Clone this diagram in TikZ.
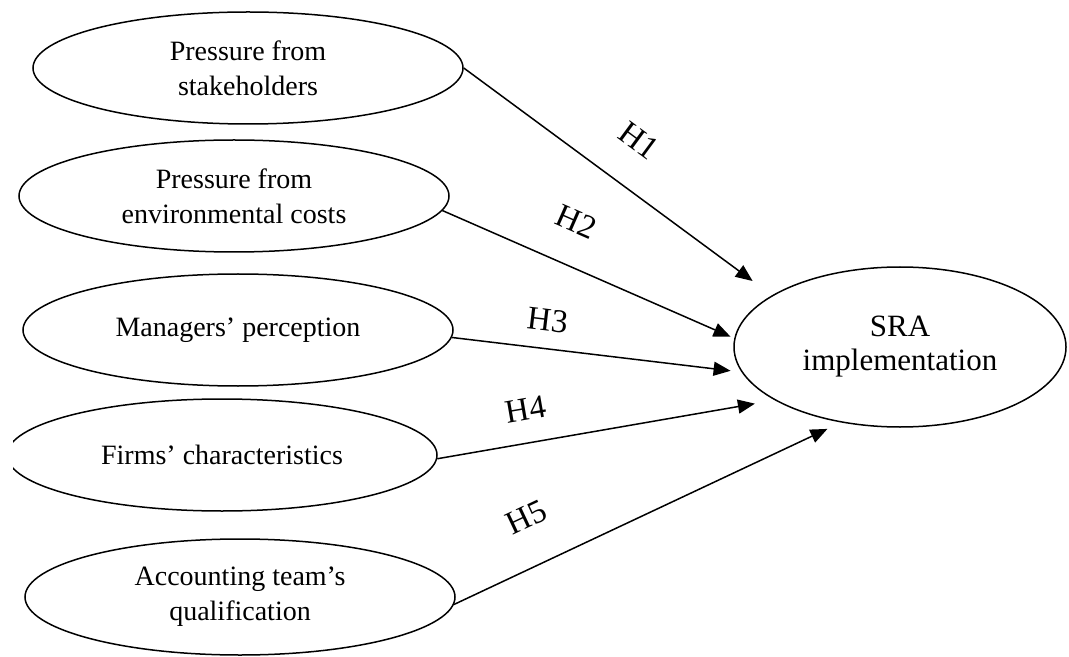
\documentclass[tikz,border=0pt]{standalone}
\usepackage{fontspec}
\setmainfont{Liberation Serif}
\usepackage{tikz}
\usetikzlibrary{positioning, shapes.geometric, arrows.meta}

\begin{document}
\begin{tikzpicture}[x=0.5pt,y=-0.5pt]
			\tikzstyle{factor}=[ellipse,draw=black,line width=0.75pt,inner sep=0pt,minimum width=215pt,minimum height=56pt,align=center,font=\fontsize{14}{17.5}\selectfont]
			\tikzstyle{hyp}=[sloped,inner sep=0pt,font=\fontsize{16.5}{16.5}\selectfont]
			\tikzstyle{arr}=[-{Triangle[length=8.5pt,width=7pt]},line width=0.75pt]
			\useasboundingbox (0,0) rectangle (1069,657);
			\node[factor](f1) at (248,68) {Pressure from\\stakeholders};
			\node[factor](f2) at (234,196) {Pressure from\\environmental costs};
			\node[factor](f3) at (238,330) {Managers’ perception};
			\begin{scope}
				\clip (13,390) rectangle (480,520);
				\node[factor](f4) at (222,455) {Firms’ characteristics};
			\end{scope}
			\node[factor,minimum height=58pt](f5) at (240,597) {Accounting team’s\\qualification};
			\node[factor,minimum width=166pt,minimum height=80pt,font=\fontsize{15.5}{17}\selectfont](sra) at (900,347) {\raisebox{-3pt}{SRA}\\\raisebox{-3pt}{implementation}};
			\path[arr]
				(f1.east) edge[shorten >=12pt] node[hyp,pos=0.48,above=17pt] {H1} (sra.158)
				(f2.-4) edge[shorten >=2pt] node[hyp,pos=0.40,above=16pt] {H2} (sra.177.6)
				(f3.-2) edge[shorten >=5.5pt] node[hyp,pos=0.32,above=8.5pt] {H3} (sra.189)
				(f4.-1) edge[shorten >=10pt] node[hyp,pos=0.28,above=11pt] {H4} (sra.203)
				(f5.-2) edge[shorten >=7.5pt] node[hyp,pos=0.24,above=18pt] {H5} (sra.232);
		\end{tikzpicture}
\end{document}
